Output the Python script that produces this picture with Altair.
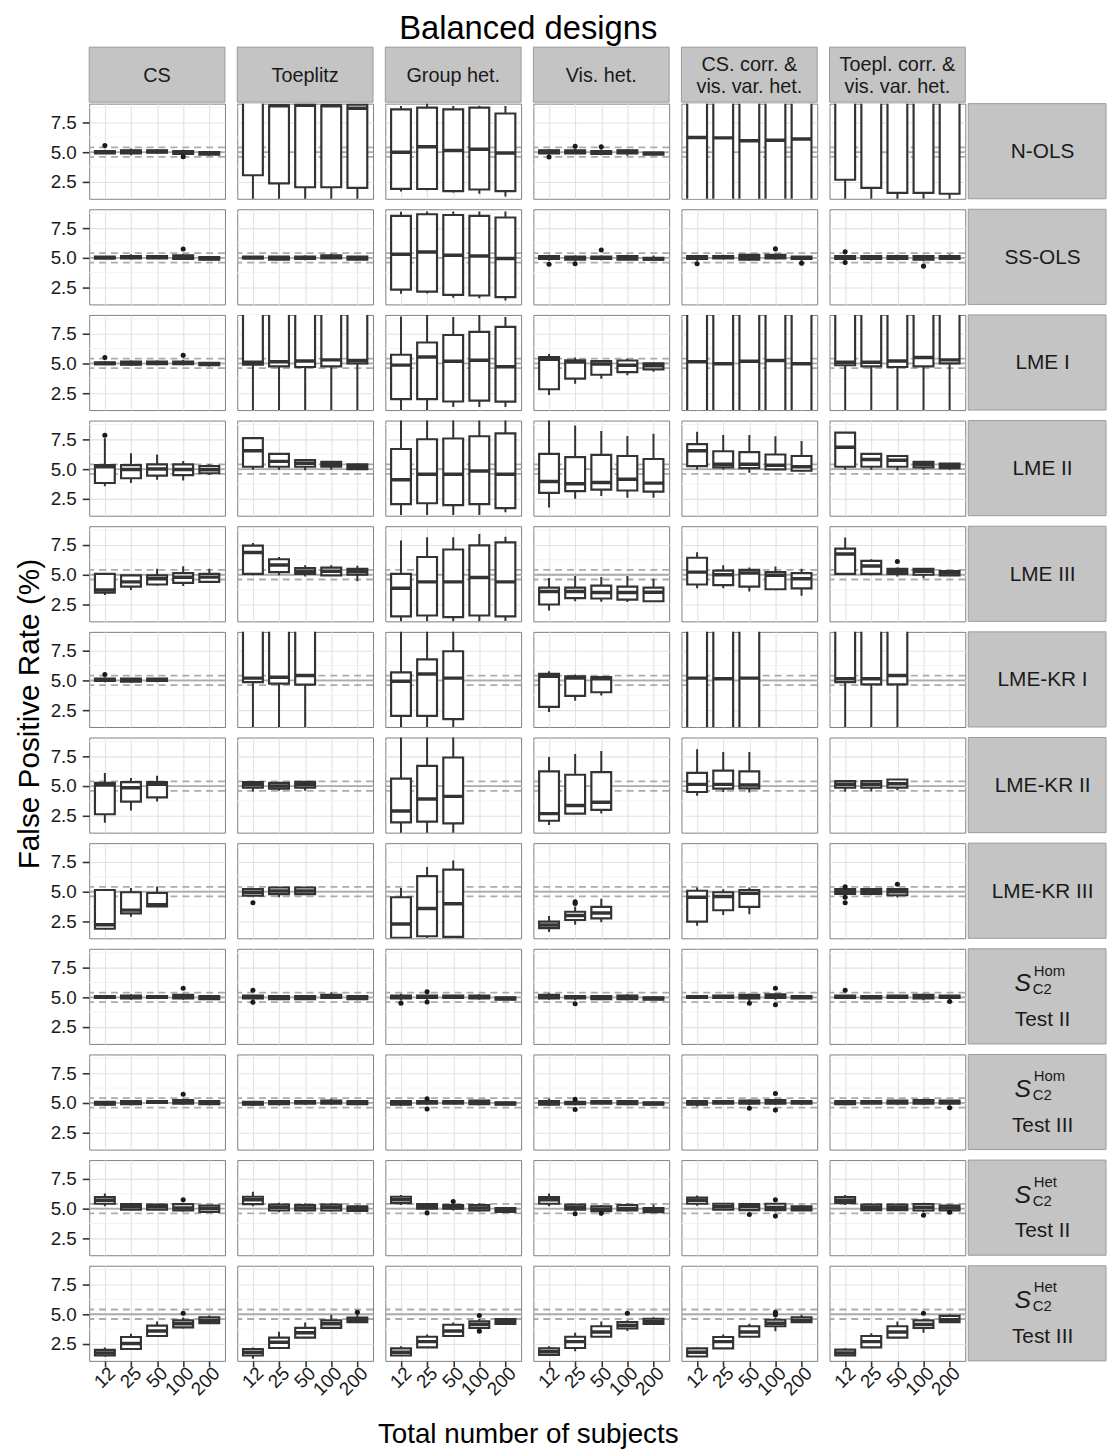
import altair as alt
import pandas as pd

FONT = "Liberation Sans"

TITLE = "Balanced designs"
X_TITLE = "Total number of subjects"
Y_TITLE = "False Positive Rate (%)"

N_LEVELS = ["12", "25", "50", "100", "200"]
DESIGNS = ["CS", "Toeplitz", "Group het.", "Vis. het.",
           "CS. corr. &\nvis. var. het.", "Toepl. corr. &\nvis. var. het."]
METHODS = ["N-OLS", "SS-OLS", "LME I", "LME II", "LME III", "LME-KR I",
           "LME-KR II", "LME-KR III", "S_Hom_II", "S_Hom_III", "S_Het_II", "S_Het_III"]
S_SYMBOL = "S"
S_SUB = "C2"
S_STRIPS = {"S_Hom_II": ("Hom", "Test II"), "S_Hom_III": ("Hom", "Test III"),
            "S_Het_II": ("Het", "Test II"), "S_Het_III": ("Het", "Test III")}

MAJOR_TICKS = [2.5, 5.0, 7.5]
MINOR_GRID = [3.75, 6.25, 8.75]
REF_SOLID = [5.0]
REF_DASHED = [4.6, 5.4]

# each box: (lower whisker, q1, median, q3, upper whisker); one list per design, one entry per n
N_OLS = [
    [(4.85, 4.9, 5.0, 5.1, 5.2), (4.75, 4.9, 5.05, 5.15, 5.3), (4.85, 4.95, 5.05, 5.15, 5.25), (4.7, 4.85, 5.0, 5.1, 5.2), (4.7, 4.8, 4.9, 5.0, 5.1)],
    [(0.3, 3.06, 9.5, 9.9, 9.9), (0.3, 2.38, 8.9, 8.9, 8.9), (0.3, 2.05, 8.95, 9.0, 9.0), (0.3, 2.05, 8.9, 8.9, 8.95), (0.3, 2.0, 8.7, 9.0, 9.0)],
    [(1.7, 1.91, 5.0, 8.6, 8.88), (1.8, 1.9, 5.46, 8.74, 9.5), (1.6, 1.72, 5.14, 8.6, 8.88), (1.5, 1.86, 5.25, 8.74, 8.9), (1.28, 1.72, 4.92, 8.25, 8.88)],
    [(4.7, 4.9, 5.05, 5.15, 5.25), (4.85, 4.9, 5.0, 5.15, 5.3), (4.75, 4.85, 5.0, 5.1, 5.25), (4.7, 4.9, 5.05, 5.15, 5.25), (4.75, 4.8, 4.9, 4.95, 5.0)],
    [(0.3, 0.5, 6.23, 9.9, 9.9), (0.3, 0.5, 6.2, 9.9, 9.9), (0.3, 0.5, 5.96, 9.9, 9.9), (0.3, 0.5, 6.0, 9.9, 9.9), (0.3, 0.5, 6.1, 9.9, 9.9)],
    [(0.3, 2.68, 9.5, 9.9, 9.9), (0.3, 2.0, 9.5, 9.9, 9.9), (0.3, 1.58, 9.5, 9.9, 9.9), (0.3, 1.58, 9.5, 9.9, 9.9), (0.3, 1.5, 9.5, 9.9, 9.9)],
]
SS_OLS = [
    [(4.9, 4.95, 5.0, 5.1, 5.15), (4.85, 4.95, 5.05, 5.15, 5.3), (4.9, 4.95, 5.05, 5.15, 5.2), (4.85, 4.9, 5.05, 5.2, 5.3), (4.8, 4.85, 4.95, 5.05, 5.1)],
    [(4.9, 4.95, 5.0, 5.1, 5.15), (4.8, 4.85, 5.0, 5.1, 5.15), (4.8, 4.9, 5.0, 5.1, 5.2), (4.9, 4.95, 5.1, 5.2, 5.35), (4.8, 4.85, 5.0, 5.1, 5.15)],
    [(1.97, 2.32, 5.3, 8.52, 8.88), (2.0, 2.16, 5.49, 8.66, 8.9), (1.64, 1.88, 5.22, 8.6, 8.9), (1.6, 1.83, 5.16, 8.52, 8.9), (1.42, 1.7, 4.95, 8.39, 8.9)],
    [(4.75, 4.9, 5.1, 5.15, 5.25), (4.7, 4.85, 5.0, 5.1, 5.2), (4.8, 4.9, 5.0, 5.1, 5.2), (4.8, 4.85, 5.0, 5.15, 5.25), (4.8, 4.85, 4.9, 5.0, 5.2)],
    [(4.75, 4.9, 5.0, 5.15, 5.2), (4.85, 4.95, 5.05, 5.15, 5.25), (4.75, 4.85, 5.05, 5.25, 5.35), (4.85, 4.95, 5.1, 5.25, 5.35), (4.7, 4.9, 5.0, 5.1, 5.15)],
    [(4.75, 4.9, 5.0, 5.15, 5.25), (4.8, 4.9, 5.0, 5.15, 5.2), (4.8, 4.9, 5.0, 5.15, 5.25), (4.7, 4.85, 5.0, 5.15, 5.25), (4.85, 4.9, 5.05, 5.15, 5.3)],
]
LME_I = [
    [(4.9, 4.95, 5.0, 5.1, 5.2), (4.8, 4.9, 5.0, 5.15, 5.25), (4.85, 4.95, 5.05, 5.15, 5.25), (4.85, 4.95, 5.05, 5.15, 5.3), (4.75, 4.85, 4.95, 5.05, 5.1)],
    [(0.3, 4.9, 5.1, 9.9, 9.9), (0.3, 4.75, 5.15, 9.9, 9.9), (0.3, 4.7, 5.2, 9.9, 9.9), (0.3, 4.75, 5.3, 9.9, 9.9), (0.3, 5.0, 5.25, 9.9, 9.9)],
    [(0.5, 2.0, 4.86, 5.73, 8.94), (0.5, 2.0, 5.54, 6.76, 9.5), (1.33, 1.8, 5.19, 7.39, 8.9), (1.33, 1.87, 5.27, 7.66, 9.5), (1.33, 1.79, 4.73, 8.07, 8.9)],
    [(2.34, 2.83, 5.35, 5.54, 5.8), (3.3, 3.72, 5.13, 5.27, 5.5), (3.72, 4.05, 4.95, 5.19, 5.3), (4.0, 4.27, 4.85, 5.25, 5.4), (4.3, 4.5, 4.8, 5.0, 5.1)],
    [(0.3, 0.5, 5.15, 9.9, 9.9), (0.3, 0.5, 4.97, 9.9, 9.9), (0.3, 0.5, 5.19, 9.9, 9.9), (0.3, 0.5, 5.25, 9.9, 9.9), (0.3, 0.5, 4.97, 9.9, 9.9)],
    [(0.3, 4.85, 5.1, 9.9, 9.9), (0.3, 4.75, 5.1, 9.9, 9.9), (0.3, 4.7, 5.2, 9.9, 9.9), (0.3, 4.75, 5.5, 9.9, 9.9), (0.3, 5.0, 5.3, 9.9, 9.9)],
]
LME_II = [
    [(3.55, 3.83, 5.2, 5.33, 7.6), (3.83, 4.23, 4.97, 5.33, 6.34), (4.1, 4.45, 5.0, 5.4, 6.23), (4.04, 4.5, 4.97, 5.4, 5.68), (4.5, 4.65, 4.95, 5.25, 5.4)],
    [(4.95, 5.2, 6.55, 7.6, 7.6), (4.95, 5.2, 5.65, 6.28, 6.28), (4.9, 5.2, 5.5, 5.75, 5.8), (4.95, 5.2, 5.4, 5.6, 5.65), (4.95, 5.0, 5.2, 5.4, 5.45)],
    [(1.15, 2.05, 4.1, 6.69, 9.5), (1.15, 2.13, 4.56, 7.51, 9.5), (1.15, 1.97, 4.56, 7.57, 9.5), (1.15, 2.05, 4.84, 7.76, 9.5), (1.37, 1.72, 4.56, 8.0, 9.5)],
    [(1.78, 3.0, 3.96, 6.28, 9.5), (2.5, 3.14, 3.77, 6.0, 8.66), (2.73, 3.28, 3.88, 6.2, 8.2), (2.6, 3.2, 4.15, 6.1, 7.79), (2.6, 3.11, 3.82, 5.85, 7.98)],
    [(4.97, 5.25, 6.55, 7.1, 8.14), (4.97, 5.14, 5.4, 6.5, 7.87), (4.7, 5.08, 5.4, 6.42, 7.87), (4.9, 4.97, 5.33, 6.23, 7.76), (4.8, 4.86, 5.2, 6.1, 7.37)],
    [(4.95, 5.2, 6.83, 8.06, 8.06), (4.95, 5.2, 5.8, 6.28, 6.28), (4.9, 5.2, 5.74, 6.1, 6.1), (4.95, 5.14, 5.4, 5.6, 5.6), (4.95, 5.08, 5.3, 5.46, 5.5)],
]
LME_III = [
    [(3.3, 3.5, 3.72, 5.08, 5.1), (3.72, 4.0, 4.4, 4.95, 5.0), (4.1, 4.18, 4.67, 4.95, 5.5), (4.05, 4.32, 4.78, 5.14, 5.71), (4.3, 4.4, 4.8, 5.08, 5.5)],
    [(4.95, 5.08, 6.87, 7.45, 7.67), (4.95, 5.22, 5.82, 6.3, 6.5), (4.85, 5.08, 5.3, 5.55, 5.8), (4.95, 4.95, 5.3, 5.6, 5.8), (4.46, 5.0, 5.25, 5.5, 5.75)],
    [(0.5, 1.5, 3.86, 5.08, 7.88), (0.5, 1.57, 4.4, 6.49, 8.15), (0.5, 1.43, 4.4, 7.12, 8.15), (0.5, 1.57, 4.76, 7.47, 8.42), (1.1, 1.5, 4.4, 7.72, 8.2)],
    [(2.0, 2.5, 3.59, 3.91, 4.73), (2.77, 3.04, 3.59, 3.91, 4.89), (2.73, 3.0, 3.5, 4.08, 4.8), (2.7, 2.9, 3.5, 4.0, 4.9), (2.7, 2.77, 3.53, 3.91, 4.67)],
    [(3.86, 4.18, 5.22, 6.43, 6.9), (3.86, 4.13, 5.0, 5.35, 5.8), (3.59, 4.0, 5.14, 5.41, 5.6), (3.7, 3.78, 4.95, 5.22, 5.7), (3.24, 3.86, 4.67, 5.14, 5.5)],
    [(5.0, 5.08, 6.75, 7.2, 8.14), (4.95, 5.08, 5.73, 6.16, 6.3), (4.85, 5.08, 5.3, 5.5, 5.6), (4.7, 5.0, 5.3, 5.5, 5.55), (4.95, 4.95, 5.15, 5.3, 5.35)],
]
LME_KR_I = [
    [(4.85, 4.95, 5.05, 5.15, 5.25), (4.8, 4.9, 5.0, 5.15, 5.2), (4.85, 4.95, 5.05, 5.15, 5.2), None, None],
    [(0.3, 4.86, 5.19, 9.9, 9.9), (0.3, 4.73, 5.27, 9.9, 9.9), (0.3, 4.65, 5.41, 9.9, 9.9), None, None],
    [(0.5, 2.01, 4.92, 5.68, 9.5), (0.5, 2.01, 5.54, 6.77, 9.5), (0.5, 1.74, 5.19, 7.45, 9.5), None, None],
    [(2.34, 2.77, 5.35, 5.54, 5.76), (3.29, 3.7, 5.19, 5.35, 5.5), (3.72, 4.0, 5.14, 5.27, 5.35), None, None],
    [(0.3, 0.5, 5.19, 9.9, 9.9), (0.3, 0.5, 5.14, 9.9, 9.9), (0.3, 0.5, 5.19, 9.9, 9.9), None, None],
    [(0.3, 4.86, 5.14, 9.9, 9.9), (0.3, 4.67, 5.14, 9.9, 9.9), (0.3, 4.67, 5.41, 9.9, 9.9), None, None],
]
LME_KR_II = [
    [(1.92, 2.63, 5.08, 5.27, 6.1), (2.95, 3.69, 4.86, 5.33, 5.68), (3.69, 4.05, 5.14, 5.33, 5.87), None, None],
    [(4.54, 4.86, 5.1, 5.33, 5.35), (4.6, 4.78, 5.0, 5.27, 5.3), (4.6, 4.86, 5.1, 5.35, 5.4), None, None],
    [(0.5, 1.95, 2.9, 5.63, 9.5), (0.5, 2.0, 3.91, 6.69, 9.5), (0.5, 1.86, 4.13, 7.4, 9.5), None, None],
    [(1.72, 2.08, 2.68, 6.23, 7.45), (2.68, 2.68, 3.36, 5.95, 7.7), (2.68, 3.0, 3.63, 6.17, 7.95), None, None],
    [(4.18, 4.5, 5.14, 6.1, 8.09), (4.5, 4.78, 5.14, 6.3, 7.87), (4.45, 4.81, 5.08, 6.23, 7.87), None, None],
    [(4.55, 4.86, 5.15, 5.41, 5.45), (4.55, 4.86, 5.15, 5.41, 5.45), (4.65, 4.86, 5.2, 5.55, 5.6), None, None],
]
LME_KR_III = [
    [(1.85, 1.88, 2.21, 5.14, 5.22), (2.9, 3.17, 3.45, 4.95, 5.3), (3.77, 3.77, 3.9, 4.89, 5.44), None, None],
    [(4.6, 4.67, 4.95, 5.22, 5.25), (4.53, 4.8, 5.05, 5.35, 5.35), (4.75, 4.8, 5.05, 5.35, 5.4), None, None],
    [(1.0, 1.12, 2.29, 4.53, 5.3), (1.1, 1.25, 3.58, 6.31, 7.08), (1.1, 1.2, 3.99, 6.86, 7.62), None, None],
    [(1.61, 1.94, 2.2, 2.48, 2.95), (2.21, 2.62, 3.0, 3.31, 3.75), (2.43, 2.76, 3.2, 3.72, 4.4), None, None],
    [(2.13, 2.48, 4.53, 5.08, 5.36), (3.03, 3.44, 4.59, 4.95, 5.2), (3.11, 3.72, 4.86, 5.14, 5.36), None, None],
    [(4.6, 4.81, 5.0, 5.22, 5.3), (4.7, 4.81, 5.0, 5.22, 5.3), (4.5, 4.7, 5.0, 5.22, 5.3), None, None],
]
S_HOM_II = [
    [(4.85, 4.95, 5.0, 5.1, 5.15), (4.8, 4.9, 5.0, 5.15, 5.25), (4.9, 4.95, 5.05, 5.1, 5.15), (4.8, 4.9, 5.05, 5.2, 5.3), (4.8, 4.85, 4.95, 5.1, 5.15)],
    [(4.8, 4.9, 5.05, 5.15, 5.2), (4.8, 4.85, 5.0, 5.1, 5.2), (4.8, 4.85, 5.0, 5.1, 5.15), (4.85, 4.95, 5.1, 5.2, 5.4), (4.75, 4.85, 5.0, 5.1, 5.2)],
    [(4.75, 4.9, 5.05, 5.15, 5.3), (4.8, 4.95, 5.05, 5.15, 5.2), (4.85, 4.95, 5.05, 5.15, 5.2), (4.8, 4.9, 5.05, 5.15, 5.25), (4.75, 4.8, 4.9, 5.0, 5.05)],
    [(4.8, 4.9, 5.05, 5.2, 5.35), (4.75, 4.9, 5.0, 5.1, 5.15), (4.8, 4.85, 5.0, 5.1, 5.15), (4.75, 4.85, 5.0, 5.15, 5.25), (4.75, 4.8, 4.9, 5.0, 5.1)],
    [(4.9, 4.95, 5.05, 5.1, 5.15), (4.9, 4.95, 5.05, 5.15, 5.2), (4.7, 4.9, 5.05, 5.2, 5.3), (4.8, 4.95, 5.1, 5.25, 5.35), (4.85, 4.9, 5.0, 5.1, 5.15)],
    [(4.85, 4.95, 5.05, 5.15, 5.2), (4.85, 4.9, 5.0, 5.1, 5.15), (4.85, 4.95, 5.05, 5.15, 5.2), (4.75, 4.9, 5.05, 5.2, 5.3), (4.8, 4.95, 5.05, 5.15, 5.2)],
]
S_HOM_III = [
    [(4.75, 4.85, 4.95, 5.1, 5.15), (4.8, 4.9, 5.0, 5.15, 5.2), (4.95, 5.0, 5.05, 5.15, 5.2), (4.85, 4.95, 5.1, 5.25, 5.35), (4.8, 4.9, 5.0, 5.15, 5.2)],
    [(4.75, 4.85, 4.95, 5.1, 5.15), (4.8, 4.9, 5.0, 5.15, 5.2), (4.85, 4.95, 5.05, 5.15, 5.2), (4.85, 4.95, 5.1, 5.2, 5.35), (4.8, 4.9, 5.0, 5.15, 5.2)],
    [(4.75, 4.85, 5.0, 5.15, 5.2), (4.85, 4.95, 5.05, 5.15, 5.3), (4.9, 4.95, 5.05, 5.15, 5.2), (4.8, 4.9, 5.05, 5.2, 5.25), (4.8, 4.85, 4.95, 5.05, 5.1)],
    [(4.75, 4.85, 5.0, 5.15, 5.35), (4.8, 4.9, 5.0, 5.1, 5.2), (4.9, 4.95, 5.05, 5.15, 5.2), (4.8, 4.9, 5.05, 5.15, 5.2), (4.8, 4.85, 4.95, 5.05, 5.1)],
    [(4.7, 4.85, 5.0, 5.15, 5.2), (4.9, 4.95, 5.05, 5.15, 5.2), (4.8, 4.95, 5.05, 5.2, 5.3), (4.85, 4.95, 5.1, 5.25, 5.35), (4.85, 4.95, 5.05, 5.15, 5.2)],
    [(4.8, 4.9, 5.0, 5.15, 5.2), (4.9, 4.95, 5.05, 5.15, 5.2), (4.85, 4.95, 5.05, 5.2, 5.25), (4.85, 4.95, 5.1, 5.25, 5.3), (4.8, 4.95, 5.05, 5.2, 5.25)],
]
S_HET_II = [
    [(5.19, 5.41, 5.7, 5.96, 6.28), (4.85, 4.92, 5.15, 5.38, 5.45), (4.9, 4.92, 5.15, 5.33, 5.4), (4.75, 4.85, 5.05, 5.38, 5.5), (4.7, 4.73, 5.0, 5.25, 5.3)],
    [(5.2, 5.38, 5.75, 6.0, 6.42), (4.7, 4.84, 5.1, 5.33, 5.5), (4.75, 4.84, 5.05, 5.3, 5.45), (4.75, 4.84, 5.1, 5.33, 5.45), (4.75, 4.8, 5.0, 5.2, 5.3)],
    [(5.3, 5.46, 5.75, 6.0, 6.15), (4.95, 5.0, 5.2, 5.38, 5.45), (4.85, 5.0, 5.1, 5.3, 5.45), (4.75, 4.84, 5.05, 5.3, 5.45), (4.7, 4.73, 4.9, 5.05, 5.1)],
    [(5.2, 5.41, 5.75, 5.96, 6.28), (4.8, 4.92, 5.1, 5.33, 5.4), (4.75, 4.78, 4.95, 5.19, 5.3), (4.75, 4.84, 5.0, 5.3, 5.45), (4.7, 4.7, 4.9, 5.05, 5.35)],
    [(5.25, 5.41, 5.7, 5.93, 6.1), (4.9, 4.92, 5.15, 5.41, 5.45), (4.8, 4.87, 5.15, 5.38, 5.45), (4.75, 4.87, 5.1, 5.41, 5.5), (4.8, 4.84, 5.0, 5.19, 5.3)],
    [(5.3, 5.46, 5.7, 5.96, 6.15), (4.8, 4.87, 5.1, 5.33, 5.45), (4.8, 4.87, 5.1, 5.33, 5.4), (4.7, 4.84, 5.1, 5.38, 5.5), (4.8, 4.84, 5.05, 5.25, 5.35)],
]
S_HET_III = [
    [(1.45, 1.53, 1.75, 2.0, 2.21), (2.08, 2.08, 2.55, 3.09, 3.36), (3.17, 3.17, 3.6, 4.04, 4.4), (3.8, 3.9, 4.2, 4.48, 4.73), (4.26, 4.26, 4.5, 4.75, 4.9)],
    [(1.26, 1.53, 1.8, 2.08, 2.2), (2.16, 2.16, 2.65, 3.03, 3.52), (3.03, 3.03, 3.45, 3.85, 4.3), (3.85, 3.85, 4.2, 4.48, 4.95), (4.34, 4.34, 4.55, 4.73, 4.95)],
    [(1.53, 1.53, 1.8, 2.13, 2.3), (2.21, 2.21, 2.7, 3.11, 3.3), (3.17, 3.17, 3.6, 4.12, 4.3), (3.75, 3.85, 4.15, 4.4, 4.6), (4.18, 4.18, 4.4, 4.6, 4.65)],
    [(1.58, 1.58, 1.85, 2.13, 2.3), (1.9, 2.16, 2.7, 3.11, 3.44), (3.11, 3.11, 3.5, 3.99, 4.4), (3.6, 3.8, 4.05, 4.34, 4.5), (4.18, 4.18, 4.4, 4.62, 4.75)],
    [(1.45, 1.45, 1.8, 2.13, 2.2), (2.13, 2.13, 2.7, 3.09, 3.3), (3.11, 3.11, 3.5, 3.99, 4.2), (3.58, 3.99, 4.25, 4.54, 4.7), (4.34, 4.34, 4.5, 4.75, 4.95)],
    [(1.53, 1.53, 1.75, 2.02, 2.15), (2.21, 2.21, 2.7, 3.17, 3.4), (3.03, 3.03, 3.5, 3.99, 4.4), (3.44, 3.85, 4.15, 4.48, 4.6), (4.34, 4.34, 4.55, 4.86, 5.0)],
]

# outliers: (method, design index, n, value)
OUTLIERS = [
    ("N-OLS", 0, "12", 5.55), ("N-OLS", 0, "100", 4.62), ("N-OLS", 3, "12", 4.6), ("N-OLS", 3, "25", 5.5), ("N-OLS", 3, "50", 5.45),
    ("SS-OLS", 0, "100", 5.74), ("SS-OLS", 3, "12", 4.45), ("SS-OLS", 3, "25", 4.5), ("SS-OLS", 3, "50", 5.65),
    ("SS-OLS", 4, "12", 4.5), ("SS-OLS", 4, "100", 5.75), ("SS-OLS", 4, "200", 4.55),
    ("SS-OLS", 5, "12", 5.5), ("SS-OLS", 5, "12", 4.6), ("SS-OLS", 5, "100", 4.3),
    ("LME I", 0, "12", 5.49), ("LME I", 0, "100", 5.68),
    ("LME II", 0, "12", 7.85),
    ("LME III", 5, "50", 6.11),
    ("LME-KR I", 0, "12", 5.49),
    ("LME-KR III", 1, "12", 4.07), ("LME-KR III", 3, "25", 4.15), ("LME-KR III", 3, "25", 4.0),
    ("LME-KR III", 5, "12", 5.41), ("LME-KR III", 5, "12", 4.53), ("LME-KR III", 5, "12", 4.07), ("LME-KR III", 5, "50", 5.63),
    ("S_Hom_II", 0, "100", 5.77), ("S_Hom_II", 1, "12", 5.6), ("S_Hom_II", 1, "12", 4.59), ("S_Hom_II", 2, "12", 4.51),
    ("S_Hom_II", 2, "25", 5.46), ("S_Hom_II", 2, "25", 4.6), ("S_Hom_II", 3, "25", 4.46), ("S_Hom_II", 4, "50", 4.5),
    ("S_Hom_II", 4, "100", 5.77), ("S_Hom_II", 4, "100", 4.38), ("S_Hom_II", 5, "12", 5.6), ("S_Hom_II", 5, "200", 4.65),
    ("S_Hom_III", 0, "100", 5.73), ("S_Hom_III", 2, "25", 5.35), ("S_Hom_III", 2, "25", 4.5), ("S_Hom_III", 3, "25", 5.3),
    ("S_Hom_III", 3, "25", 4.45), ("S_Hom_III", 4, "50", 4.55), ("S_Hom_III", 4, "100", 5.79), ("S_Hom_III", 4, "100", 4.4),
    ("S_Hom_III", 5, "200", 4.6),
    ("S_Het_II", 0, "100", 5.74), ("S_Het_II", 2, "25", 4.64), ("S_Het_II", 2, "50", 5.6), ("S_Het_II", 3, "25", 4.56),
    ("S_Het_II", 3, "50", 4.6), ("S_Het_II", 4, "50", 4.51), ("S_Het_II", 4, "100", 5.74), ("S_Het_II", 4, "100", 4.37),
    ("S_Het_II", 5, "100", 4.45), ("S_Het_II", 5, "200", 4.7),
    ("S_Het_III", 0, "100", 5.08), ("S_Het_III", 1, "200", 5.16), ("S_Het_III", 2, "100", 4.89), ("S_Het_III", 2, "100", 3.58),
    ("S_Het_III", 3, "100", 5.08), ("S_Het_III", 4, "100", 5.16), ("S_Het_III", 4, "100", 4.95), ("S_Het_III", 5, "100", 5.08),
]

BOXES = dict(zip(METHODS, [N_OLS, SS_OLS, LME_I, LME_II, LME_III, LME_KR_I,
                           LME_KR_II, LME_KR_III, S_HOM_II, S_HOM_III, S_HET_II, S_HET_III]))

rows = []
for m in METHODS:
    for di, design_boxes in enumerate(BOXES[m]):
        for n, b in zip(N_LEVELS, design_boxes):
            if b is None:
                continue
            rows.append(dict(m=m, d=di, n=n, lo=b[0], q1=b[1], med=b[2], q3=b[3], hi=b[4]))
BOX_DF = pd.DataFrame(rows)
OUT_DF = pd.DataFrame(OUTLIERS, columns=["m", "d", "n", "v"])
MINOR_DF = pd.DataFrame({"v": MINOR_GRID})
SOLID_DF = pd.DataFrame({"v": REF_SOLID})
DASH_DF = pd.DataFrame({"v": REF_DASHED})

# ---- layout / style ----
W, H = 137, 96
COL_SP = 10.4
ROW_SP = 8.6
STRIP_W = 139
HEAD_H = 56
GRID = "#e2e2e2"
MINOR = "#f3f3f3"
REF = "#ababab"
BOXC = "#333333"
STRIP_FILL = "#c4c4c4"
STRIP_EDGE = "#9a9a9a"
PANEL_EDGE = "#808080"
TXT = "#1a1a1a"
TICK_FS = 19

ysc = alt.Scale(domain=[1.08, 9.08], nice=False, zero=False)
xsc = alt.Scale(type="point", domain=N_LEVELS, padding=0.6)


def y_axis(show, grid=True, hidden=False):
    kw = dict(values=MAJOR_TICKS, title=None, domain=False, grid=grid, gridColor=GRID, gridWidth=1.1)
    if show:
        kw.update(format=".1f", labels=True, ticks=True, tickSize=7, tickWidth=1.6, tickColor=BOXC,
                  labelFontSize=TICK_FS, labelColor=TXT, labelFont=FONT, labelPadding=6)
        if hidden:
            kw.update(labelOpacity=0, tickOpacity=0)
    else:
        kw.update(labels=False, ticks=False)
    return alt.Axis(**kw)


def x_axis(show):
    kw = dict(title=None, domain=False, grid=True, gridColor=GRID, gridWidth=1.1)
    if show:
        kw.update(labels=True, ticks=True, tickSize=6, tickWidth=1.6, tickColor=BOXC,
                  labelFontSize=TICK_FS, labelColor=TXT, labelFont=FONT, labelAngle=315,
                  labelAlign="right", labelBaseline="middle", labelPadding=3, labelOffset=7)
    else:
        kw.update(labels=False, ticks=False)
    return alt.Axis(**kw)


def panel(m, di, show_y, show_x):
    sub = BOX_DF[(BOX_DF.m == m) & (BOX_DF.d == di)]
    outs = OUT_DF[(OUT_DF.m == m) & (OUT_DF.d == di)]
    ya = y_axis(show_y)
    X = alt.X("n:N", scale=xsc, axis=x_axis(show_x), title=None)
    minor = alt.Chart(MINOR_DF).mark_rule(color=MINOR, strokeWidth=1, clip=True).encode(
        y=alt.Y("v:Q", scale=ysc, axis=ya))
    solid = alt.Chart(SOLID_DF).mark_rule(color=REF, strokeWidth=1.8, clip=True).encode(
        y=alt.Y("v:Q", scale=ysc, axis=ya))
    dashed = alt.Chart(DASH_DF).mark_rule(color=REF, strokeWidth=1.8, strokeDash=[7, 5], clip=True).encode(
        y=alt.Y("v:Q", scale=ysc, axis=ya))
    base = alt.Chart(sub)
    wlo = base.mark_rule(color=BOXC, strokeWidth=2, clip=True).encode(
        x=X, y=alt.Y("lo:Q", scale=ysc, axis=ya), y2="q1:Q")
    whi = base.mark_rule(color=BOXC, strokeWidth=2, clip=True).encode(
        x=X, y=alt.Y("q3:Q", scale=ysc, axis=ya), y2="hi:Q")
    box = base.mark_bar(size=20, fill="white", stroke=BOXC, strokeWidth=2.2, clip=True).encode(
        x=X, y=alt.Y("q1:Q", scale=ysc, axis=ya), y2="q3:Q")
    med = base.mark_tick(size=21, thickness=3.5, color=BOXC, clip=True, opacity=1).encode(
        x=X, y=alt.Y("med:Q", scale=ysc, axis=ya))
    layers = [minor, solid, dashed, wlo, whi, box, med]
    if len(outs):
        layers.append(alt.Chart(outs).mark_circle(size=26, color=TXT, opacity=1, clip=True).encode(
            x=X, y=alt.Y("v:Q", scale=ysc, axis=ya)))
    return alt.layer(*layers).properties(
        width=W, height=H, view=alt.ViewBackground(stroke=PANEL_EDGE, strokeWidth=1, fill="white"))


def header(di):
    label = DESIGNS[di]
    nlines = label.count("\n") + 1
    df = pd.DataFrame({"label": [label]})
    rect = alt.Chart(df).mark_rect(fill=STRIP_FILL, stroke=STRIP_EDGE, strokeWidth=1).encode(
        x=alt.value(0), x2=alt.value(W), y=alt.value(0), y2=alt.value(HEAD_H - 0.5))
    txt = alt.Chart(df).mark_text(fontSize=20, font=FONT, color=TXT, lineBreak="\n",
                                  lineHeight=22, align="center", baseline="middle").encode(
        x=alt.value(W / 2), y=alt.value(HEAD_H / 2 - 11 * (nlines - 1) + 1), text="label:N")
    layers = [rect, txt]
    if di == 0:
        layers.append(alt.Chart(MINOR_DF).mark_point(opacity=0, size=1).encode(
            y=alt.Y("v:Q", scale=ysc, axis=y_axis(True, grid=False, hidden=True))))
    return alt.layer(*layers).properties(width=W, height=HEAD_H - 1,
                                         view=alt.ViewBackground(stroke=None))


def row_strip(m):
    if m in S_STRIPS:
        sup, test = S_STRIPS[m]
        df = pd.DataFrame({"s": [S_SYMBOL], "sup": [sup], "sub": [S_SUB], "test": [test]})
    else:
        df = pd.DataFrame({"label": [m]})
    base = alt.Chart(df)
    rect = base.mark_rect(fill=STRIP_FILL, stroke=STRIP_EDGE, strokeWidth=1).encode(
        x=alt.value(0), x2=alt.value(STRIP_W), y=alt.value(0), y2=alt.value(H))
    layers = [rect]
    if m in S_STRIPS:
        layers += [
            base.mark_text(fontSize=25, font=FONT, fontStyle="italic", color=TXT,
                           align="center", baseline="middle").encode(
                x=alt.value(55), y=alt.value(35), text="s:N"),
            base.mark_text(fontSize=15, font=FONT, color=TXT, align="left",
                           baseline="middle").encode(x=alt.value(66), y=alt.value(22), text="sup:N"),
            base.mark_text(fontSize=15, font=FONT, color=TXT, align="left",
                           baseline="middle").encode(x=alt.value(65), y=alt.value(41), text="sub:N"),
            base.mark_text(fontSize=21, font=FONT, color=TXT, align="center",
                           baseline="middle").encode(x=alt.value(75), y=alt.value(72), text="test:N"),
        ]
    else:
        layers.append(base.mark_text(fontSize=21, font=FONT, color=TXT, align="center",
                                     baseline="middle").encode(
            x=alt.value(75), y=alt.value(H / 2 + 1), text="label:N"))
    return alt.layer(*layers).properties(width=STRIP_W, height=H, view=alt.ViewBackground(stroke=None))


def text_chart(text, w, h, x, y, size, angle=0):
    df = pd.DataFrame({"t": [text]})
    return alt.Chart(df).mark_text(fontSize=size, font=FONT, color="#000000", angle=angle,
                                   align="center", baseline="middle").encode(
        x=alt.value(x), y=alt.value(y), text="t:N").properties(
        width=w, height=h, view=alt.ViewBackground(stroke=None))


grid_rows = []
for mi, m in enumerate(METHODS):
    last = mi == len(METHODS) - 1
    panels = [panel(m, di, di == 0, last) for di in range(len(DESIGNS))]
    grid_rows.append(alt.hconcat(alt.hconcat(*panels, spacing=COL_SP), row_strip(m), spacing=1))
grid = alt.vconcat(*grid_rows, spacing=ROW_SP)

header_row = alt.hconcat(*[header(di) for di in range(len(DESIGNS))], spacing=COL_SP)
title_c = text_chart(TITLE, 900, 38, 443, 23, 33)
xtitle_c = text_chart(X_TITLE, 900, 46, 443, 35, 28)
main = alt.vconcat(title_c, header_row, grid, xtitle_c, spacing=0)
ytitle_c = text_chart(Y_TITLE, 44, 1430, 30, 714, 30, angle=270)

chart = alt.hconcat(ytitle_c, main, spacing=5, padding=0).configure(
    font=FONT).configure_view(stroke=None)

chart.save("out.html", embed_options={"renderer": "svg", "actions": False})
